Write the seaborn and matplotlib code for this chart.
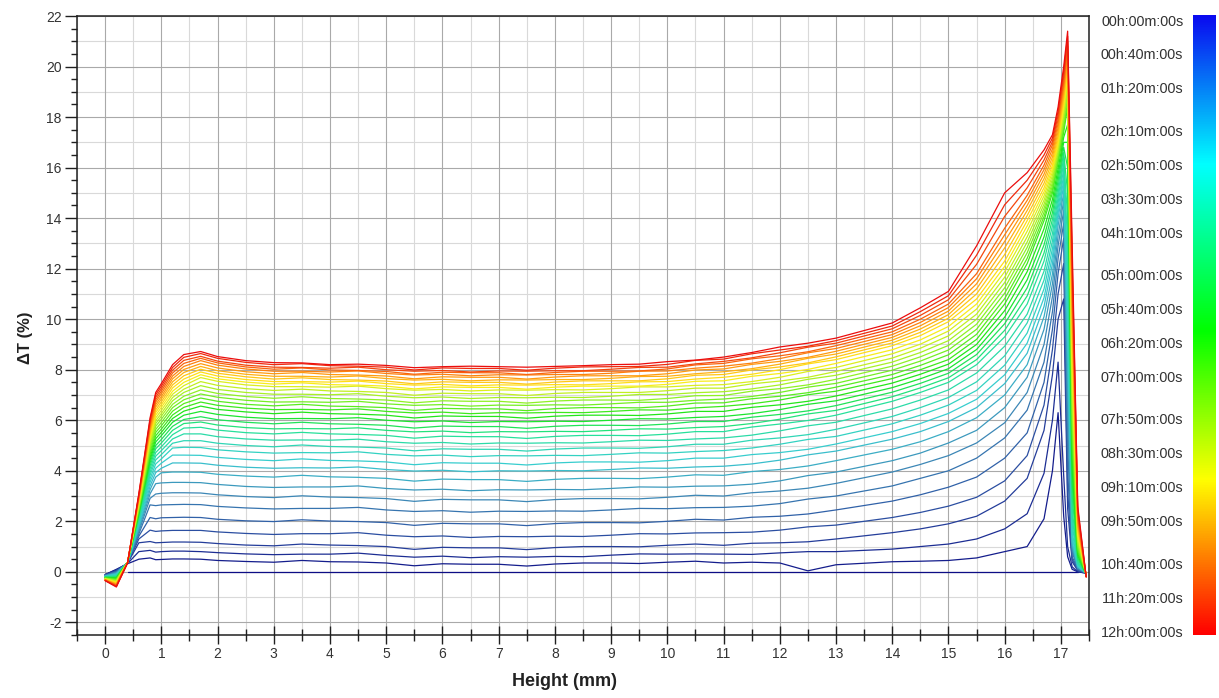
import numpy as np
import pandas as pd
import matplotlib
matplotlib.use("Agg")
import matplotlib.pyplot as plt
import seaborn as sns
from matplotlib.colors import LinearSegmentedColormap
from matplotlib.ticker import MultipleLocator

# ---------------- data ----------------
heights = [0.0, 0.2, 0.4, 0.6, 0.8, 0.9, 1.0, 1.2, 1.4, 1.7, 2.0, 2.5, 3.0, 3.5, 4.0, 4.5, 5.0, 5.5,
           6.0, 6.5, 7.0, 7.5, 8.0, 8.5, 9.0, 9.5, 10.0, 10.5, 11.0, 11.5, 12.0, 12.5, 13.0, 14.0,
           14.5, 15.0, 15.5, 16.0, 16.4, 16.7, 16.85, 16.95, 17.05, 17.12, 17.2, 17.3, 17.45]

scan_minutes = [0, 20, 40, 60, 80, 100, 120, 140, 160, 180, 200, 220, 240, 260, 280, 300, 320, 340,
                360, 380, 400, 420, 440, 460, 480, 500, 520, 540, 560, 580, 600, 620, 640, 660, 680,
                700, 720]

delta_t = [
    [None, None, 0.0, 0.0, 0.0, 0.0, 0.0, 0.0, 0.0, 0.0, 0.0, 0.0, 0.0, 0.0, 0.0, 0.0, 0.0, 0.0, 0.0, 0.0, 0.0, 0.0, 0.0, 0.0, 0.0, 0.0, 0.0, 0.0, 0.0, 0.0, 0.0, 0.0, 0.0, 0.0, 0.0, 0.0, 0.0, 0.0, 0.0, 0.0, 0.0, 0.0, 0.0, 0.0, 0.0, 0.0, None],
    [-0.11, 0.10, 0.32, 0.50, 0.55, 0.48, 0.49, 0.51, 0.51, 0.50, 0.45, 0.41, 0.38, 0.45, 0.40, 0.39, 0.35, 0.24, 0.32, 0.30, 0.30, 0.23, 0.31, 0.35, 0.35, 0.33, 0.38, 0.42, 0.35, 0.38, 0.35, 0.04, 0.28, 0.40, 0.42, 0.45, 0.55, 0.80, 1.00, 2.10, 4.00, 6.30, 2.20, 0.60, 0.10, 0.00, -0.05],
    [-0.11, 0.08, 0.33, 0.80, 0.85, 0.78, 0.80, 0.82, 0.82, 0.80, 0.76, 0.71, 0.68, 0.70, 0.70, 0.74, 0.65, 0.58, 0.62, 0.56, 0.60, 0.58, 0.61, 0.60, 0.66, 0.71, 0.70, 0.71, 0.70, 0.69, 0.75, 0.80, 0.80, 0.90, 1.00, 1.10, 1.30, 1.70, 2.30, 3.90, 6.00, 8.30, 3.80, 1.00, 0.20, 0.00, -0.05],
    [-0.12, 0.06, 0.34, 1.15, 1.20, 1.15, 1.16, 1.18, 1.18, 1.17, 1.12, 1.06, 1.03, 1.10, 1.06, 1.04, 1.00, 0.89, 0.97, 0.95, 0.95, 0.88, 0.96, 1.00, 1.00, 0.99, 1.05, 1.10, 1.05, 1.13, 1.15, 1.19, 1.30, 1.55, 1.70, 1.90, 2.20, 2.80, 3.70, 5.60, 7.80, 10.0, 10.8, 2.50, 0.40, 0.05, -0.05],
    [-0.13, 0.04, 0.34, 1.30, 1.65, 1.60, 1.62, 1.64, 1.64, 1.64, 1.58, 1.52, 1.48, 1.51, 1.51, 1.55, 1.45, 1.39, 1.42, 1.36, 1.40, 1.39, 1.41, 1.40, 1.45, 1.51, 1.50, 1.54, 1.55, 1.57, 1.65, 1.78, 1.85, 2.15, 2.35, 2.60, 2.95, 3.60, 4.60, 6.60, 8.80, 11.0, 12.2, 3.20, 0.50, 0.05, -0.05],
    [-0.13, 0.02, 0.35, 1.41, 2.15, 2.10, 2.14, 2.15, 2.16, 2.15, 2.08, 2.02, 1.99, 2.06, 2.01, 1.99, 1.95, 1.84, 1.92, 1.90, 1.90, 1.83, 1.91, 1.95, 1.95, 1.94, 2.00, 2.08, 2.05, 2.16, 2.20, 2.29, 2.45, 2.80, 3.05, 3.35, 3.75, 4.50, 5.50, 7.50, 9.60, 11.8, 13.2, 4.00, 0.60, 0.10, -0.05],
    [-0.14, 0.00, 0.35, 1.50, 2.65, 2.62, 2.65, 2.66, 2.67, 2.66, 2.59, 2.53, 2.49, 2.51, 2.51, 2.55, 2.45, 2.39, 2.42, 2.36, 2.40, 2.39, 2.41, 2.40, 2.45, 2.51, 2.50, 2.54, 2.55, 2.60, 2.70, 2.88, 3.00, 3.40, 3.70, 4.00, 4.50, 5.30, 6.40, 8.30, 10.3, 12.4, 13.8, 5.00, 0.80, 0.10, -0.05],
    [-0.15, -0.02, 0.35, 1.59, 2.91, 3.08, 3.11, 3.13, 3.13, 3.12, 3.05, 2.98, 2.94, 3.01, 2.96, 2.94, 2.90, 2.79, 2.87, 2.85, 2.85, 2.78, 2.86, 2.90, 2.90, 2.89, 2.95, 3.03, 3.00, 3.13, 3.20, 3.31, 3.50, 3.95, 4.25, 4.60, 5.10, 5.90, 7.10, 9.00, 10.9, 12.9, 14.3, 6.00, 0.90, 0.15, -0.05],
    [-0.16, -0.04, 0.36, 1.67, 3.09, 3.49, 3.52, 3.54, 3.54, 3.53, 3.46, 3.38, 3.34, 3.36, 3.36, 3.40, 3.30, 3.24, 3.27, 3.21, 3.25, 3.24, 3.26, 3.25, 3.30, 3.36, 3.35, 3.39, 3.40, 3.47, 3.60, 3.81, 3.95, 4.40, 4.70, 5.10, 5.60, 6.50, 7.70, 9.60, 11.4, 13.3, 14.7, 7.00, 1.00, 0.15, -0.05],
    [-0.16, -0.06, 0.36, 1.75, 3.25, 3.75, 3.92, 3.95, 3.95, 3.94, 3.86, 3.79, 3.75, 3.82, 3.76, 3.74, 3.70, 3.59, 3.67, 3.65, 3.65, 3.58, 3.66, 3.70, 3.70, 3.69, 3.75, 3.84, 3.82, 3.97, 4.05, 4.19, 4.40, 4.85, 5.15, 5.55, 6.10, 7.00, 8.20, 10.1, 11.8, 13.7, 15.0, 8.00, 1.10, 0.20, -0.05],
    [-0.17, -0.08, 0.36, 1.82, 3.40, 3.93, 4.10, 4.31, 4.31, 4.30, 4.22, 4.14, 4.10, 4.12, 4.11, 4.15, 4.05, 3.99, 4.02, 3.96, 4.00, 3.99, 4.01, 4.00, 4.05, 4.11, 4.10, 4.15, 4.18, 4.27, 4.42, 4.63, 4.78, 5.25, 5.55, 5.95, 6.50, 7.45, 8.65, 10.5, 12.2, 14.0, 15.3, 9.00, 1.20, 0.20, -0.05],
    [-0.18, -0.10, 0.36, 1.89, 3.55, 4.10, 4.30, 4.62, 4.62, 4.61, 4.53, 4.45, 4.40, 4.47, 4.41, 4.39, 4.35, 4.24, 4.32, 4.30, 4.30, 4.23, 4.31, 4.35, 4.35, 4.34, 4.40, 4.50, 4.50, 4.64, 4.72, 4.85, 5.06, 5.55, 5.87, 6.27, 6.83, 7.80, 9.05, 10.85, 12.5, 14.2, 15.5, 10.0, 1.40, 0.25, -0.06],
    [-0.18, -0.12, 0.37, 1.96, 3.69, 4.27, 4.47, 4.90, 4.93, 4.92, 4.83, 4.75, 4.70, 4.72, 4.71, 4.75, 4.65, 4.59, 4.62, 4.56, 4.60, 4.59, 4.61, 4.60, 4.65, 4.71, 4.70, 4.76, 4.80, 4.90, 5.05, 5.24, 5.36, 5.86, 6.20, 6.60, 7.18, 8.18, 9.45, 11.2, 12.8, 14.4, 15.7, 11.0, 1.60, 0.28, -0.06],
    [-0.19, -0.14, 0.37, 2.02, 3.83, 4.43, 4.64, 5.09, 5.19, 5.19, 5.09, 5.00, 4.95, 5.02, 4.96, 4.94, 4.90, 4.79, 4.87, 4.85, 4.85, 4.78, 4.86, 4.90, 4.90, 4.89, 4.95, 5.05, 5.05, 5.21, 5.30, 5.43, 5.64, 6.15, 6.50, 6.90, 7.52, 8.55, 9.85, 11.55, 13.1, 14.6, 15.95, 12.0, 1.90, 0.32, -0.07],
    [-0.20, -0.16, 0.37, 2.08, 3.95, 4.58, 4.80, 5.26, 5.46, 5.46, 5.35, 5.26, 5.21, 5.22, 5.21, 5.25, 5.15, 5.09, 5.12, 5.06, 5.10, 5.09, 5.11, 5.10, 5.15, 5.21, 5.20, 5.26, 5.30, 5.41, 5.58, 5.78, 5.92, 6.45, 6.80, 7.20, 7.87, 8.93, 10.2, 11.9, 13.4, 14.8, 16.2, 13.0, 2.20, 0.36, -0.07],
    [-0.20, -0.18, 0.37, 2.14, 4.08, 4.72, 4.95, 5.43, 5.69, 5.72, 5.61, 5.51, 5.46, 5.52, 5.46, 5.44, 5.40, 5.29, 5.37, 5.35, 5.35, 5.28, 5.36, 5.40, 5.40, 5.39, 5.45, 5.55, 5.55, 5.73, 5.85, 5.99, 6.20, 6.75, 7.10, 7.50, 8.20, 9.30, 10.6, 12.3, 13.7, 15.0, 16.4, 14.0, 2.50, 0.40, -0.08],
    [-0.21, -0.20, 0.37, 2.20, 4.20, 4.87, 5.10, 5.60, 5.87, 5.93, 5.81, 5.71, 5.66, 5.67, 5.66, 5.70, 5.60, 5.54, 5.57, 5.51, 5.55, 5.54, 5.56, 5.55, 5.60, 5.66, 5.65, 5.71, 5.75, 5.87, 6.04, 6.25, 6.39, 6.93, 7.28, 7.68, 8.40, 9.56, 10.92, 12.62, 13.96, 15.24, 16.6, 15.0, 3.00, 0.48, -0.08],
    [-0.22, -0.22, 0.37, 2.26, 4.32, 5.00, 5.24, 5.76, 6.03, 6.14, 6.02, 5.92, 5.86, 5.92, 5.86, 5.84, 5.80, 5.69, 5.77, 5.75, 5.75, 5.68, 5.76, 5.80, 5.80, 5.79, 5.85, 5.95, 5.95, 6.12, 6.23, 6.37, 6.58, 7.11, 7.46, 7.86, 8.60, 9.82, 11.24, 12.94, 14.22, 15.48, 16.8, 16.0, 3.50, 0.56, -0.09],
    [-0.22, -0.24, 0.38, 2.31, 4.43, 5.14, 5.39, 5.92, 6.20, 6.35, 6.23, 6.12, 6.06, 6.07, 6.06, 6.10, 6.00, 5.94, 5.97, 5.91, 5.95, 5.94, 5.96, 5.95, 6.00, 6.06, 6.05, 6.11, 6.15, 6.26, 6.42, 6.63, 6.77, 7.29, 7.64, 8.04, 8.80, 10.08, 11.56, 13.26, 14.48, 15.72, 17.0, 17.0, 4.00, 0.64, -0.09],
    [-0.23, -0.26, 0.38, 2.36, 4.54, 5.27, 5.52, 6.07, 6.36, 6.56, 6.43, 6.33, 6.26, 6.32, 6.26, 6.24, 6.20, 6.09, 6.17, 6.15, 6.15, 6.08, 6.16, 6.20, 6.20, 6.19, 6.25, 6.35, 6.35, 6.51, 6.61, 6.75, 6.96, 7.47, 7.82, 8.22, 9.00, 10.34, 11.88, 13.58, 14.74, 15.96, 17.2, 17.7, 4.50, 0.72, -0.10],
    [-0.24, -0.28, 0.38, 2.41, 4.65, 5.39, 5.65, 6.21, 6.51, 6.72, 6.59, 6.48, 6.42, 6.43, 6.41, 6.45, 6.35, 6.29, 6.32, 6.26, 6.30, 6.29, 6.31, 6.30, 6.35, 6.41, 6.40, 6.49, 6.55, 6.65, 6.80, 7.01, 7.15, 7.65, 8.00, 8.40, 9.20, 10.6, 12.2, 13.9, 15.0, 16.2, 17.4, 18.4, 5.00, 0.80, -0.10],
    [-0.25, -0.30, 0.38, 2.46, 4.75, 5.52, 5.78, 6.36, 6.66, 6.88, 6.75, 6.63, 6.57, 6.63, 6.56, 6.54, 6.50, 6.39, 6.47, 6.45, 6.45, 6.38, 6.46, 6.50, 6.50, 6.49, 6.56, 6.68, 6.69, 6.85, 6.95, 7.09, 7.31, 7.81, 8.17, 8.59, 9.40, 10.81, 12.41, 14.06, 15.14, 16.31, 17.55, 18.59, 5.50, 0.90, -0.11],
    [-0.25, -0.32, 0.38, 2.51, 4.86, 5.64, 5.91, 6.50, 6.81, 7.04, 6.91, 6.79, 6.72, 6.73, 6.71, 6.75, 6.65, 6.59, 6.62, 6.56, 6.60, 6.59, 6.61, 6.60, 6.65, 6.71, 6.71, 6.79, 6.84, 6.94, 7.10, 7.31, 7.46, 7.98, 8.34, 8.78, 9.60, 11.03, 12.63, 14.23, 15.28, 16.43, 17.7, 18.78, 6.00, 1.00, -0.11],
    [-0.26, -0.34, 0.38, 2.56, 4.96, 5.76, 6.04, 6.63, 6.95, 7.20, 7.06, 6.94, 6.87, 6.93, 6.86, 6.84, 6.80, 6.69, 6.77, 6.75, 6.75, 6.68, 6.76, 6.80, 6.80, 6.79, 6.86, 6.97, 6.98, 7.15, 7.25, 7.40, 7.62, 8.14, 8.51, 8.96, 9.80, 11.24, 12.84, 14.39, 15.41, 16.54, 17.85, 18.96, 6.50, 1.10, -0.12],
    [-0.27, -0.36, 0.38, 2.60, 5.05, 5.87, 6.16, 6.77, 7.10, 7.37, 7.22, 7.10, 7.03, 7.03, 7.01, 7.05, 6.95, 6.89, 6.92, 6.86, 6.90, 6.89, 6.91, 6.90, 6.95, 7.02, 7.02, 7.09, 7.13, 7.24, 7.40, 7.62, 7.78, 8.30, 8.68, 9.15, 10.0, 11.45, 13.05, 14.55, 15.55, 16.65, 18.0, 19.15, 7.00, 1.20, -0.12],
    [-0.27, -0.38, 0.38, 2.65, 5.15, 5.98, 6.27, 6.90, 7.23, 7.53, 7.38, 7.25, 7.18, 7.23, 7.16, 7.14, 7.10, 6.99, 7.07, 7.05, 7.05, 6.98, 7.06, 7.10, 7.10, 7.10, 7.17, 7.27, 7.27, 7.44, 7.55, 7.70, 7.93, 8.46, 8.85, 9.34, 10.2, 11.66, 13.26, 14.71, 15.69, 16.76, 18.15, 19.34, 7.50, 1.30, -0.13],
    [-0.28, -0.40, 0.38, 2.69, 5.24, 6.09, 6.39, 7.03, 7.37, 7.69, 7.54, 7.40, 7.33, 7.33, 7.31, 7.35, 7.25, 7.19, 7.22, 7.16, 7.20, 7.19, 7.21, 7.20, 7.25, 7.32, 7.32, 7.38, 7.41, 7.53, 7.70, 7.93, 8.09, 8.63, 9.01, 9.53, 10.4, 11.88, 13.48, 14.88, 15.83, 16.88, 18.3, 19.53, 8.00, 1.40, -0.13],
    [-0.29, -0.42, 0.38, 2.74, 5.34, 6.20, 6.51, 7.15, 7.50, 7.80, 7.64, 7.51, 7.43, 7.48, 7.41, 7.39, 7.35, 7.24, 7.32, 7.30, 7.30, 7.23, 7.31, 7.35, 7.35, 7.35, 7.42, 7.54, 7.56, 7.74, 7.85, 8.01, 8.25, 8.79, 9.18, 9.71, 10.6, 12.09, 13.69, 15.04, 15.96, 16.99, 18.45, 19.71, 8.50, 1.50, -0.14],
    [-0.29, -0.44, 0.38, 2.78, 5.43, 6.31, 6.62, 7.28, 7.63, 7.91, 7.75, 7.61, 7.53, 7.53, 7.51, 7.55, 7.45, 7.39, 7.42, 7.36, 7.40, 7.39, 7.41, 7.40, 7.45, 7.52, 7.53, 7.63, 7.70, 7.82, 8.00, 8.23, 8.40, 8.95, 9.35, 9.90, 10.8, 12.3, 13.9, 15.2, 16.1, 17.1, 18.6, 19.9, 9.00, 1.60, -0.15],
    [-0.30, -0.46, 0.38, 2.82, 5.52, 6.41, 6.73, 7.40, 7.76, 8.02, 7.86, 7.72, 7.63, 7.68, 7.61, 7.59, 7.55, 7.44, 7.52, 7.50, 7.50, 7.43, 7.51, 7.56, 7.56, 7.56, 7.64, 7.78, 7.81, 7.99, 8.11, 8.27, 8.51, 9.06, 9.48, 10.04, 11.0, 12.56, 14.1, 15.38, 16.26, 17.26, 18.76, 20.08, 9.50, 1.72, -0.16],
    [-0.31, -0.48, 0.38, 2.86, 5.60, 6.52, 6.84, 7.52, 7.89, 8.13, 7.96, 7.82, 7.74, 7.74, 7.71, 7.75, 7.65, 7.59, 7.62, 7.56, 7.60, 7.59, 7.61, 7.61, 7.66, 7.73, 7.74, 7.84, 7.92, 8.04, 8.22, 8.45, 8.62, 9.17, 9.61, 10.18, 11.2, 12.82, 14.3, 15.56, 16.42, 17.42, 18.92, 20.26, 10.0, 1.84, -0.17],
    [-0.32, -0.50, 0.37, 2.91, 5.69, 6.62, 6.94, 7.64, 8.01, 8.24, 8.07, 7.92, 7.84, 7.89, 7.81, 7.79, 7.75, 7.64, 7.72, 7.70, 7.70, 7.63, 7.71, 7.76, 7.76, 7.76, 7.84, 7.99, 8.03, 8.21, 8.33, 8.49, 8.73, 9.28, 9.74, 10.32, 11.4, 13.08, 14.5, 15.74, 16.58, 17.58, 19.08, 20.44, 10.5, 1.96, -0.18],
    [-0.32, -0.52, 0.37, 2.95, 5.77, 6.72, 7.05, 7.75, 8.13, 8.36, 8.18, 8.03, 7.94, 7.94, 7.91, 7.95, 7.85, 7.79, 7.82, 7.76, 7.80, 7.79, 7.81, 7.81, 7.86, 7.94, 7.95, 8.06, 8.14, 8.26, 8.44, 8.67, 8.84, 9.39, 9.87, 10.46, 11.6, 13.34, 14.7, 15.92, 16.74, 17.74, 19.24, 20.62, 11.0, 2.08, -0.19],
    [-0.33, -0.54, 0.37, 2.98, 5.86, 6.81, 7.15, 7.87, 8.25, 8.45, 8.27, 8.11, 8.02, 8.07, 7.99, 7.97, 7.93, 7.82, 7.90, 7.88, 7.88, 7.81, 7.89, 7.94, 7.94, 7.95, 8.03, 8.19, 8.25, 8.43, 8.55, 8.71, 8.95, 9.50, 10.0, 10.6, 11.8, 13.6, 14.9, 16.1, 16.9, 17.9, 19.4, 20.8, 11.5, 2.20, -0.20],
    [-0.34, -0.56, 0.36, 3.02, 5.94, 6.91, 7.25, 7.98, 8.37, 8.53, 8.34, 8.18, 8.10, 8.09, 8.06, 8.10, 8.00, 7.94, 7.97, 7.91, 7.95, 7.94, 7.96, 7.96, 8.02, 8.09, 8.10, 8.23, 8.33, 8.47, 8.67, 8.89, 9.05, 9.62, 10.15, 10.77, 12.17, 14.07, 15.2, 16.3, 17.03, 18.07, 19.6, 21.0, 12.0, 2.33, -0.20],
    [-0.34, -0.58, 0.36, 3.06, 6.02, 7.01, 7.35, 8.09, 8.49, 8.64, 8.45, 8.29, 8.20, 8.24, 8.16, 8.14, 8.10, 7.99, 8.07, 8.05, 8.05, 7.98, 8.06, 8.11, 8.12, 8.13, 8.21, 8.37, 8.42, 8.63, 8.78, 8.93, 9.15, 9.73, 10.3, 10.93, 12.53, 14.53, 15.5, 16.5, 17.17, 18.23, 19.8, 21.2, 12.5, 2.47, -0.20],
    [-0.35, -0.60, 0.35, 3.10, 6.10, 7.10, 7.45, 8.20, 8.60, 8.72, 8.52, 8.36, 8.28, 8.27, 8.20, 8.22, 8.17, 8.08, 8.12, 8.14, 8.12, 8.10, 8.13, 8.16, 8.20, 8.22, 8.32, 8.38, 8.50, 8.68, 8.90, 9.05, 9.25, 9.85, 10.45, 11.1, 12.9, 15.0, 15.8, 16.7, 17.3, 18.4, 20.0, 21.4, 13.0, 2.60, -0.20],
]

colorbar_ticks_min = [0, 40, 80, 130, 170, 210, 250, 300, 340, 380, 420, 470, 510, 550, 590, 640, 680, 720]
colorbar_labels = ["00h:00m:00s", "00h:40m:00s", "01h:20m:00s", "02h:10m:00s", "02h:50m:00s",
                   "03h:30m:00s", "04h:10m:00s", "05h:00m:00s", "05h:40m:00s", "06h:20m:00s",
                   "07h:00m:00s", "07h:50m:00s", "08h:30m:00s", "09h:10m:00s", "09h:50m:00s",
                   "10h:40m:00s", "11h:20m:00s", "12h:00m:00s"]

x_ticks = list(range(0, 18))
y_ticks = list(range(-2, 23, 2))

# ---------------- long-form table ----------------
records = []
for t, row in zip(scan_minutes, delta_t):
    assert len(row) == len(heights), (t, len(row))
    for h, v in zip(heights, row):
        if v is not None:
            records.append((t, h, v))
df = pd.DataFrame(records, columns=["time", "height", "dT"])

# ---------------- style ----------------
sns.set_theme(style="white")
plt.rcParams["font.family"] = ["Liberation Sans", "DejaVu Sans"]
plt.rcParams["axes.unicode_minus"] = False

W, H = 1219, 698
fig = plt.figure(figsize=(W / 100, H / 100), dpi=100)
ax = fig.add_axes([77 / W, 1 - 635 / H, (1089 - 77) / W, (635 - 16) / H])
cax = fig.add_axes([1193 / W, 1 - 635 / H, 23 / W, 620 / H])

line_cmap = LinearSegmentedColormap.from_list("lines", [
    (0.00, (0.05, 0.05, 0.52)),
    (0.10, (0.16, 0.28, 0.62)),
    (0.20, (0.24, 0.55, 0.72)),
    (0.30, (0.22, 0.80, 0.82)),
    (0.42, (0.15, 0.88, 0.60)),
    (0.52, (0.10, 0.90, 0.10)),
    (0.65, (0.60, 0.95, 0.15)),
    (0.76, (1.00, 0.93, 0.10)),
    (0.88, (1.00, 0.55, 0.05)),
    (1.00, (0.92, 0.05, 0.05)),
])
bar_cmap = LinearSegmentedColormap.from_list("bar", [
    (0.00, "#0a0af0"), (0.24, "#00ffff"), (0.51, "#00ff00"), (0.75, "#ffff00"), (1.00, "#ff0000")])

sns.lineplot(data=df, x="height", y="dT", hue="time", units="time", estimator=None,
             palette=line_cmap, hue_norm=(0, 720), sort=False, legend=False,
             linewidth=0.9, ax=ax, zorder=3)

ax.set_xlim(-0.5, 17.5)
ax.set_ylim(-2.5, 22)
ax.set_xticks(x_ticks)
ax.set_yticks(y_ticks)
ax.xaxis.set_minor_locator(MultipleLocator(0.5))
ax.yaxis.set_minor_locator(MultipleLocator(0.5))

# grid
ax.grid(which="major", axis="both", color="#a9a9a9", linewidth=0.8, zorder=0)
ax.grid(which="minor", axis="x", color="#d9d9d9", linewidth=0.8, zorder=0)
for yv in range(-1, 22, 2):
    ax.axhline(yv, color="#d9d9d9", linewidth=0.8, zorder=0)
ax.set_axisbelow(True)

for s in ax.spines.values():
    s.set_visible(True)
    s.set_color("#202020")
    s.set_linewidth(1.1)

ax.tick_params(axis="x", which="major", direction="inout", length=13, width=1.0, color="#202020",
               labelsize=10, labelcolor="#333333", pad=2, bottom=True)
ax.tick_params(axis="x", which="minor", direction="inout", length=9, width=1.0, color="#202020", bottom=True)
ax.tick_params(axis="y", which="major", direction="out", length=9, width=1.0, color="#202020",
               labelsize=10, labelcolor="#333333", pad=2, left=True)
ax.tick_params(axis="y", which="minor", direction="out", length=4.5, width=1.0, color="#202020", left=True)

ax.set_xlabel("Height (mm)", fontsize=13, fontweight="bold", color="#222222")
ax.set_ylabel("ΔT (%)", fontsize=12, fontweight="bold", color="#222222")
ax.xaxis.set_label_coords(0.482, -0.061)
ax.yaxis.set_label_coords(-0.043, 0.481)

# colour scale: the bar spans slightly more than 0..720 min so the labels sit inside it
t_top, t_bottom = -5.9, 724.7
cax.imshow(np.linspace(0, 1, 512)[:, None], aspect="auto", cmap=bar_cmap,
           extent=[0, 1, t_bottom, t_top], interpolation="bilinear")
cax.set_ylim(t_bottom, t_top)
cax.set_xlim(0, 1)
cax.set_xticks([])
cax.set_yticks(colorbar_ticks_min)
cax.set_yticklabels(colorbar_labels)
cax.yaxis.set_ticks_position("left")
for s in cax.spines.values():
    s.set_visible(False)
cax.tick_params(axis="y", length=0, pad=7, labelsize=10.4, labelcolor="#333333")

fig.savefig("out.png", dpi=100, facecolor="white")
